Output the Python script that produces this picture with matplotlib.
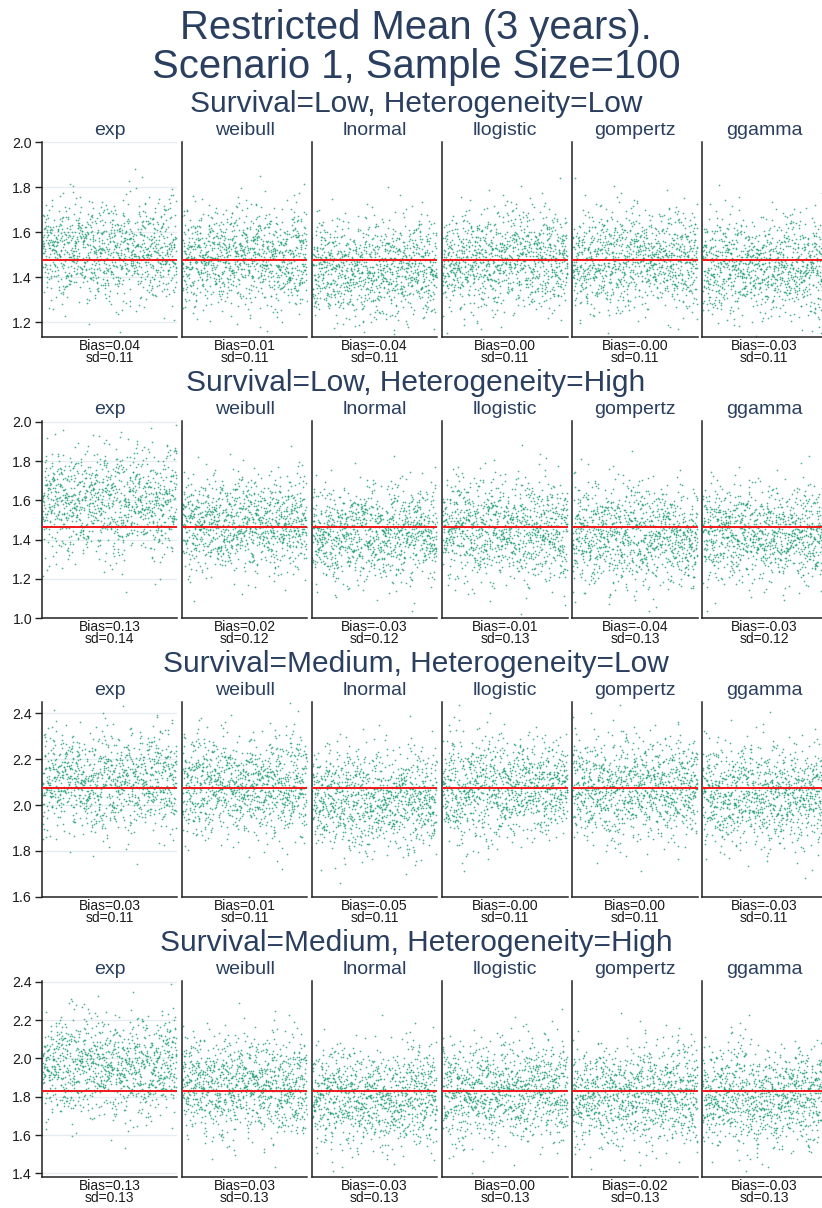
import numpy as np
import matplotlib
matplotlib.use("Agg")
import matplotlib.pyplot as plt
from statistics import NormalDist

plt.rcParams['font.family'] = ['Liberation Sans', 'DejaVu Sans']

# ---------------- data ----------------
title_lines = ["Restricted Mean (3 years).", "Scenario 1, Sample Size=100"]
group_titles = ["Survival=Low, Heterogeneity=Low",
                "Survival=Low, Heterogeneity=High",
                "Survival=Medium, Heterogeneity=Low",
                "Survival=Medium, Heterogeneity=High"]
models = ["exp", "weibull", "lnormal", "llogistic", "gompertz", "ggamma"]

true_values = [1.478, 1.462, 2.074, 1.830]

bias_g1 = ["0.04", "0.01", "-0.04", "0.00", "-0.00", "-0.03"]
bias_g2 = ["0.13", "0.02", "-0.03", "-0.01", "-0.04", "-0.03"]
bias_g3 = ["0.03", "0.01", "-0.05", "-0.00", "0.00", "-0.03"]
bias_g4 = ["0.13", "0.03", "-0.03", "0.00", "-0.02", "-0.03"]

sd_g1 = ["0.11", "0.11", "0.11", "0.11", "0.11", "0.11"]
sd_g2 = ["0.14", "0.12", "0.12", "0.13", "0.13", "0.12"]
sd_g3 = ["0.11", "0.11", "0.11", "0.11", "0.11", "0.11"]
sd_g4 = ["0.13", "0.13", "0.13", "0.13", "0.13", "0.13"]

yticks_g1 = [1.2, 1.4, 1.6, 1.8, 2.0]
yticks_g2 = [1.0, 1.2, 1.4, 1.6, 1.8, 2.0]
yticks_g3 = [1.6, 1.8, 2.0, 2.2, 2.4]
yticks_g4 = [1.4, 1.6, 1.8, 2.0, 2.2, 2.4]

n_sims = 1000  # simulation replicates per panel

biases = [bias_g1, bias_g2, bias_g3, bias_g4]
sds = [sd_g1, sd_g2, sd_g3, sd_g4]
yticks = [yticks_g1, yticks_g2, yticks_g3, yticks_g4]

# ---------------- layout (pixels) ----------------
W, H = 822, 1208
col_x0 = [42, 182, 312, 442, 572, 702]
col_x1 = [177, 307, 437, 568, 698, 828]
row_top = [141.7, 420.7, 701.7, 980.7]
row_bot = [337.3, 618.3, 897.3, 1177.3]
ylims = [(1.134, 2.003), (1.0, 2.005), (1.598, 2.45), (1.38, 2.405)]

NAVY = '#2a3f5f'
PT_COLOR = '#1f9e77'
GRID = '#e6edf0'

fig = plt.figure(figsize=(W / 100, H / 100), dpi=100)


def fx(x):
    return x / W


def fy(y):
    return 1 - y / H


fig.text(fx(416), fy(39), title_lines[0], ha='center', va='baseline',
         fontsize=28.8, color=NAVY)
fig.text(fx(416), fy(78), title_lines[1], ha='center', va='baseline',
         fontsize=28.8, color=NAVY)

# Simulation replicate clouds cannot be read point by point; each cloud is
# drawn from the panel's mean (true + bias) and sd printed under the panel.
rng = np.random.default_rng(1)
nd = NormalDist()
quantiles = np.array([nd.inv_cdf((i + 0.5) / n_sims) for i in range(n_sims)])
idx = np.arange(1, n_sims + 1)

for g in range(4):
    fig.text(fx(416), fy(row_top[g] - 29.5), group_titles[g], ha='center',
             va='baseline', fontsize=21.5, color=NAVY)
    for c in range(6):
        x0, x1 = col_x0[c], col_x1[c]
        ax = fig.add_axes([fx(x0), fy(row_bot[g]), (x1 - x0) / W,
                           (row_bot[g] - row_top[g]) / H])
        mean = true_values[g] + float(biases[g][c])
        sd = float(sds[g][c])
        vals = mean + sd * quantiles[rng.permutation(n_sims)]
        ax.scatter(idx, vals, s=1.5, color=PT_COLOR, linewidths=0, alpha=0.8,
                   zorder=2)
        ax.axhline(true_values[g], color='#f01818', lw=1.4, zorder=3)
        ax.set_xlim(-3, n_sims + 4)
        ax.set_ylim(*ylims[g])
        ax.set_xticks([])
        for s in ['top', 'right']:
            ax.spines[s].set_visible(False)
        for s in ['left', 'bottom']:
            ax.spines[s].set_color('#222222')
            ax.spines[s].set_linewidth(1.1)
        ax.set_yticks(yticks[g])
        if c == 0:
            ax.set_yticklabels([f"{v:.1f}" for v in yticks[g]])
            ax.tick_params(axis='y', direction='out', length=5, width=1,
                           color='#222222', labelsize=10.2, labelcolor='#1a1a1a',
                           pad=2.2)
            for v in yticks[g]:
                ax.axhline(v, color=GRID, lw=1.0, zorder=1)
        else:
            ax.tick_params(axis='y', length=0, labelleft=False)
        xc = (x0 + x1) / 2 if c < 5 else (x0 + 826) / 2
        fig.text(fx(xc), fy(row_top[g] - 7), models[c],
                 ha='center', va='baseline', fontsize=14, color=NAVY)
        fig.text(fx(xc), fy(row_bot[g] + 13), "Bias=" + biases[g][c],
                 ha='center', va='baseline', fontsize=10, color='#1a1a1a')
        fig.text(fx(xc), fy(row_bot[g] + 25), "sd=" + sds[g][c],
                 ha='center', va='baseline', fontsize=10, color='#1a1a1a')

fig.savefig("out.png", dpi=100)
